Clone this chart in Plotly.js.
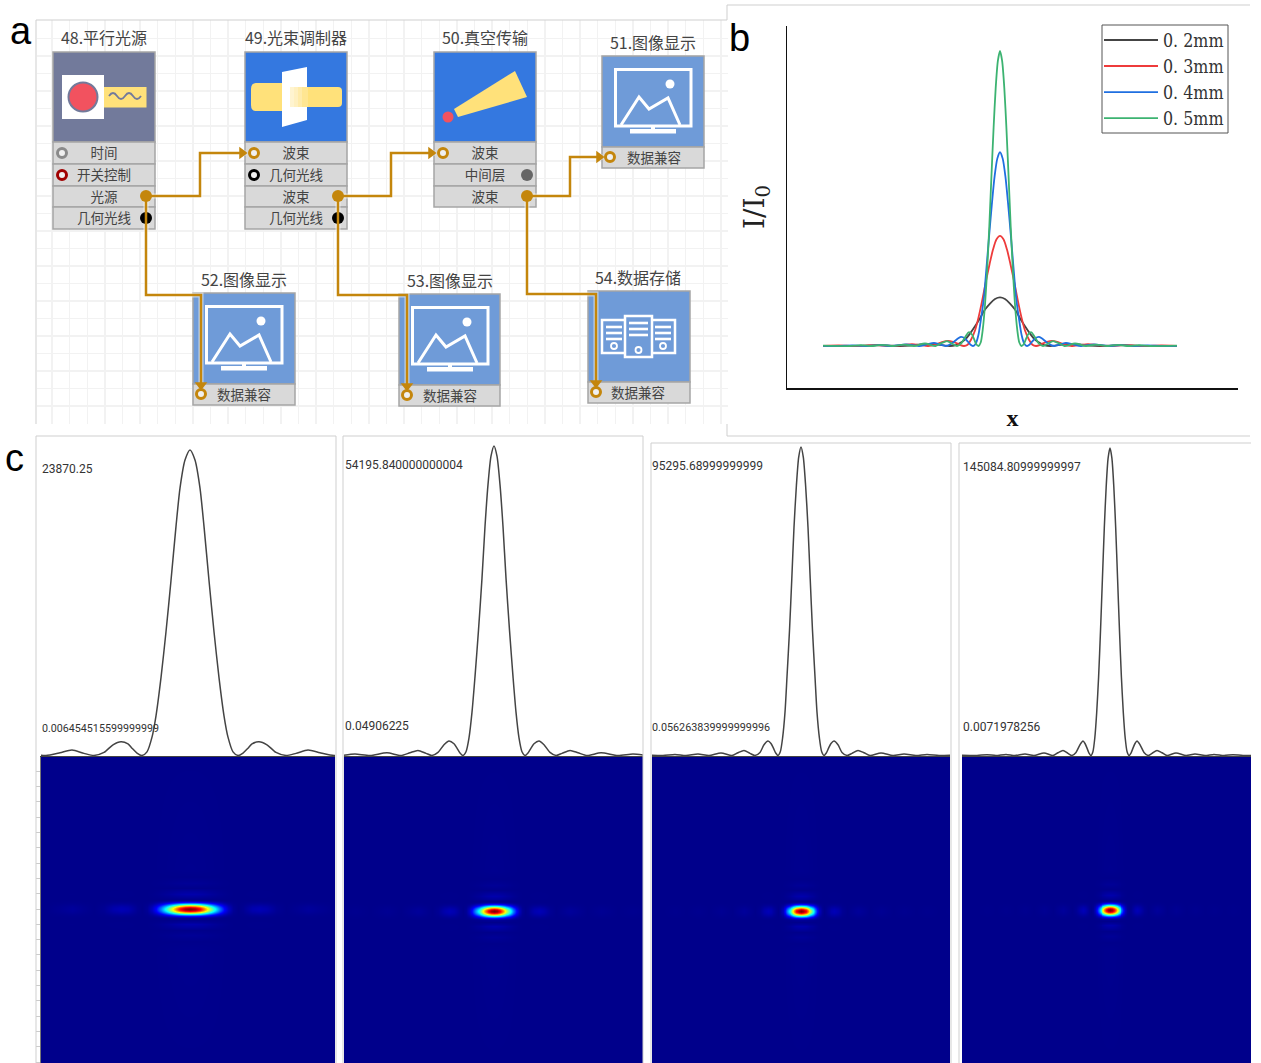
<!DOCTYPE html>
<html><head><meta charset="utf-8">
<script src="https://cdn.plot.ly/plotly-3.0.1.min.js"></script>
<style>html,body{margin:0;padding:0;background:#fff}#chart{width:1261px;height:1063px}</style>
</head><body><div id="chart"></div>
<script>
// ---------- DATA ----------
const seriesNames = ['0. 2mm','0. 3mm','0. 4mm','0. 5mm'];
const peakValues = [23870.25, 54195.84, 95295.69, 145084.81];
const maxLabels = ['23870.25','54195.840000000004','95295.68999999999','145084.80999999997'];
const minLabels = ['0.006454515599999999','0.04906225','0.056263839999999996','0.0071978256'];

// half profiles, centre outwards: offset from the peak, height in % of the peak
const cOff1 = [0,5,10,14,19,24,29,34,38,43,48,53,58,62,69,77,86,96,106,118,130,144,150];
const cH1   = [100,96.7,87.5,75,57.3,40.5,25.5,13,6,1.2,0,.8,2.4,3.8,4.5,3.5,1,0,.7,1.8,.9,0,.1];
const cOff2 = [0,3,6,9,12,15.5,19,22,25,28,31,34,37,40,45,50,56,62,68,76,84,93,107,124,139,150];
const cH2   = [100,96.7,87.5,74,57.3,40.5,25.5,14,5.7,1.2,0,.8,2.4,3.8,4.7,3.5,1,0,.7,1.65,.9,0,.85,0,.5,.1];
const cOff3 = [0,2.3,4.6,7,9.2,11.5,14,16,18.4,20.7,23,25.3,27.6,30,33,37,41,46,51,57,63,69,80,92,103,115,126,138,150];
const cH3   = [100,96.7,87.5,74,57.3,40.5,25.5,14,5.7,1.2,0,.8,2.4,3.9,4.7,3.5,1,0,.7,1.65,.9,0,.85,0,.5,0,.35,0,.1];
const cOff4 = [0,1.9,3.8,5.7,7.6,9.5,11.4,13.3,15.2,17.1,19,21,23,25,27,30,34,38,42,47,52,57,66,76,85,95,104,114,123,133,150];
const cH4   = [100,96.7,87.5,74,57.3,40.5,25.5,14,5.7,1.2,0,.8,2.4,3.9,4.7,3.5,1,0,.7,1.65,.9,0,.85,0,.5,0,.35,0,.25,0,.1];
// panel b offsets for the same curves
const bOff1 = [0,5,10,15,20,25,30,35,40,45,50,55,60,65,72,80,90,100,110,123,135,150,177];
const bOff2 = [0,3.6,7,10.5,14.4,18,21.6,25,29,32.4,36,39.6,43,47,52,58,65,72,79,88,97,108,124,144,161,177];
const bOff3 = [0,2.7,5.4,8,10.8,13.5,16,19,21.6,24.3,27,29.7,32.4,35,39,43,49,54,60,66,73,81,94,108,121,135,148,162,177];
const bOff4 = [0,2.1,4.3,6.4,8.6,10.7,12.9,15,17.2,19.3,21.5,24,26,28,31,34,38.5,43,47.5,53,59,64.5,75,86,96,107.5,118,129,139,150.5,177];
// vertical section through the spots
const spotYOff = [0,1,2,3,4.1,5.2,6.2,7.2,8.3,9.4,10.5,12.5,15,18,21,26,32,40,154];
const spotYH   = [100,96.7,87.5,74,57.3,40.5,25.5,14,5.7,1.2,0,1.5,3.5,2,0,1.2,0,.4,0];

const nodeTitles = ['48.平行光源','49.光束调制器','50.真空传输','51.图像显示','52.图像显示','53.图像显示','54.数据存储'];
const nodePorts = [
  ['时间','开关控制','光源','几何光线'],
  ['波束','几何光线','波束','几何光线'],
  ['波束','中间层','波束'],
  ['数据兼容'],['数据兼容'],['数据兼容'],['数据兼容']
];

// ---------- GEOMETRY AND STYLE ----------
const W = 1261, H = 1063;
const px = v => v / W, py = v => 1 - v / H;
const GOLD = '#c4860c';
const CJK = '"Noto Sans CJK SC","Noto Sans",sans-serif';
const nodes = [
  {x:53, w:102,top:52, head:142,rows:[164,186,207,229],color:'#727a9b',tx:104,ty:38,lx:104},
  {x:245,w:102,top:52, head:142,rows:[164,186,207,229],color:'#3478e0',tx:296,ty:38,lx:296},
  {x:434,w:102,top:52, head:142,rows:[164,186,207],    color:'#3478e0',tx:485,ty:38,lx:485},
  {x:602,w:102,top:56, head:147,rows:[168],color:'#6f9bd8',tx:653,ty:43,lx:654},
  {x:193,w:102,top:293,head:384,rows:[405],color:'#6f9bd8',tx:244,ty:280,lx:244},
  {x:399,w:101,top:294,head:385,rows:[406],color:'#6f9bd8',tx:450,ty:281,lx:450},
  {x:588,w:102,top:291,head:382,rows:[403],color:'#6f9bd8',tx:638,ty:278,lx:638}
];
const shapes = [];
function R(x0,y0,x1,y1,fill,line,lw){shapes.push({type:'rect',xref:'x',yref:'y',x0,y0,x1,y1,fillcolor:fill,line:{color:line||fill,width:lw===undefined?0:lw},layer:'between'});}
function P(path,fill,line,lw){shapes.push({type:'path',xref:'x',yref:'y',path,fillcolor:fill||'rgba(0,0,0,0)',line:{color:line||'rgba(0,0,0,0)',width:lw||0},layer:'between'});}
function C(cx,cy,r,fill,line,lw){shapes.push({type:'circle',xref:'x',yref:'y',x0:cx-r,x1:cx+r,y0:cy-r,y1:cy+r,fillcolor:fill,line:{color:line||fill,width:lw||0},layer:'between'});}
const textX=[],textY=[],textS=[],textSize=[];
const TEXT_DY=2;
nodes.forEach((n,i)=>{
  R(n.x,n.top,n.x+n.w,n.head,n.color,'#a5a5a5',1.5);
  let y=n.head;
  n.rows.forEach((r,k)=>{
    R(n.x,y,n.x+n.w,r,'#d9d9d9','#a5a5a5',1.5);
    textX.push(n.lx); textY.push((y+r)/2+TEXT_DY); textS.push(nodePorts[i][k]); textSize.push(13.5);
    y=r;
  });
  textX.push(n.tx); textY.push(n.ty+TEXT_DY); textS.push(nodeTitles[i]); textSize.push(16);
});
// icons
R(62,75,104,119,'#ffffff');
R(104,87,146.5,107.5,'#ffe17a');
C(83,97,14.5,'#f2525f','#727a9b',2);
P('M109,96 Q113,90 117,96 T125,96 T133,96 T141,96',null,'#727a9b',1.8);
P('M256,83 H292 V111 H256 Q251,111 251,105 V89 Q251,83 256,83 Z','#ffe17a');
P('M282,72 L307,67 V120 L282,127 Z','#ffffff');
P('M308,87 H338 Q342,87 342,91 V103 Q342,107 338,107 H308 Z','#ffe17a');
[[290,294,'#fff4d0'],[294,298,'#fff0c0'],[298,302,'#ffebaa'],[302,308,'#ffe692']].forEach(s=>R(s[0],87,s[1],107,s[2]));
P('M454,109 L515,71 L527,97 L458,117 Z','#ffe17a');
C(448,117,5.5,'#f2525f');
function picture(x,y){
  R(x+13.5,y+13.5,x+89,y+70,'rgba(0,0,0,0)','#ffffff',3);
  C(x+68,y+28,4.5,'#ffffff');
  P(`M${x+19},${y+69} L${x+37},${y+41} L${x+47},${y+53} L${x+66},${y+42} L${x+78},${y+69}`,null,'#ffffff',3);
  R(x+49,y+70,x+53,y+74,'#ffffff');
  R(x+28,y+73,x+74,y+77.5,'#ffffff');
}
picture(602,56); picture(193,293); picture(399,294);
function server(x0,x1,y0,y1){
  R(x0,y0,x1,y1,'#6f9bd8','#ffffff',2.5);
  [7,13,19].forEach(d=>R(x0+4,y0+d-1.3,x1-4,y0+d+1.3,'#ffffff'));
  C((x0+x1)/2,y1-7,3,'#6f9bd8','#ffffff',1.8);
}
server(602,626,320,353); server(651,675,320,353); server(625,652,316,357);

// connectors
const wires = [
  {x:[146,200,200,246],y:[196,196,153,153]},
  {x:[146,146,201,201],y:[196,295,295,386]},
  {x:[338,391,391,435],y:[196,196,153,153]},
  {x:[338,338,407,407],y:[196,295,295,387]},
  {x:[527,570,570,603],y:[196,196,157,157]},
  {x:[527,527,596,596],y:[196,294,294,384]}
];
const arrowX=[242,431,599,201,407,596], arrowY=[153,153,157,385,386,383];
const arrowSym=['triangle-right','triangle-right','triangle-right','triangle-down','triangle-down','triangle-down'];
const portOpen = [[62,153,'#8a8a8a'],[62,175,'#a00000'],[254,153,GOLD],[254,175,'#000000'],[443,153,GOLD],[610,157,GOLD],[201,394,GOLD],[407,395,GOLD],[596,392,GOLD]];
const portFull = [[146,218,'#000000'],[338,218,'#000000'],[527,175,'#666666'],[146,196,GOLD],[338,196,GOLD],[527,196,GOLD]];

const traces = [];
// diagram on its own axes
wires.forEach(w=>traces.push({type:'scatter',mode:'lines',x:w.x,y:w.y,xaxis:'x',yaxis:'y',showlegend:false,line:{color:'rgba(255,255,255,.55)',width:5},hoverinfo:'skip'}));
traces.push({type:'scatter',mode:'markers',x:portFull.map(p=>p[0]),y:portFull.map(p=>p[1]),xaxis:'x',yaxis:'y',showlegend:false,marker:{size:12,color:portFull.map(p=>p[2])},hoverinfo:'skip'});
wires.forEach(w=>traces.push({type:'scatter',mode:'lines',x:w.x,y:w.y,xaxis:'x',yaxis:'y',showlegend:false,line:{color:GOLD,width:2.5},hoverinfo:'skip'}));
traces.push({type:'scatter',mode:'markers',x:arrowX,y:arrowY,xaxis:'x',yaxis:'y',showlegend:false,marker:{size:11,color:GOLD,symbol:arrowSym},hoverinfo:'skip'});
traces.push({type:'scatter',mode:'markers',x:portOpen.map(p=>p[0]),y:portOpen.map(p=>p[1]),xaxis:'x',yaxis:'y',showlegend:false,marker:{size:9,color:'#f0f0f0',line:{width:3,color:portOpen.map(p=>p[2])}},hoverinfo:'skip'});
traces.push({type:'scatter',mode:'text',x:textX,y:textY,text:textS,xaxis:'x',yaxis:'y',showlegend:false,textposition:'middle center',textfont:{family:CJK,size:textSize,color:'#444444'},hoverinfo:'skip'});

const mirrorX = a => a.slice(1).reverse().map(v=>-v).concat(a);
const mirrorH = a => a.slice(1).reverse().concat(a);

// panel b
const bOffs=[bOff1,bOff2,bOff3,bOff4], cHs=[cH1,cH2,cH3,cH4], cOffs=[cOff1,cOff2,cOff3,cOff4];
const bColors=['#444444','#ee3b3b','#1f6fe0','#3cb371'];
const bBase=346,bPeak=51,bTop=26,bBot=388,bLeft=787,bRight=1238,bCx=1000;
bOffs.forEach((o,i)=>{
  const pk=peakValues[i];
  traces.push({type:'scatter',mode:'lines',name:seriesNames[i],x:mirrorX(o),y:mirrorH(cHs[i]).map(h=>h*pk/100),xaxis:'x2',yaxis:'y2',
    line:{color:bColors[i],width:1.8,shape:'spline',smoothing:.7},hoverinfo:'skip'});
});
const bScale=(bBase-bPeak)/peakValues[3];

// panel c
const panels=[
 {l:41, r:335, cx:190, cy:909,top:437,peak:450,frame:[36,336,436],label:42,yMax:469,yMin:728,fs:10.7},
 {l:344,r:643, cx:494, cy:911,top:437,peak:446,frame:[343,643,436],label:345,yMax:465,yMin:726,fs:12},
 {l:652,r:950, cx:801, cy:911,top:444,peak:447,frame:[651,951,443],label:652,yMax:466,yMin:727,fs:10.8},
 {l:962,r:1251,cx:1110,cy:910,top:444,peak:448,frame:[959,1251,443],label:963,yMax:467,yMin:727,fs:12}
];
const cBase=755.5,cBot=757;
const jet=[[0,'#00008b'],[.125,'#0000ff'],[.375,'#00ffff'],[.625,'#ffff00'],[.875,'#ff0000'],[1,'#800000']];
const layout={width:W,height:H,margin:{l:0,r:0,t:0,b:0},paper_bgcolor:'#ffffff',plot_bgcolor:'rgba(0,0,0,0)',hovermode:false,
  shapes,annotations:[],
  xaxis:{domain:[px(37),px(728)],range:[37,728],anchor:'y',showgrid:true,gridcolor:'#f2f2f2',gridwidth:1.5,tickmode:'linear',tick0:157.7,dtick:17.6,showticklabels:false,ticks:'',zeroline:false,showline:false},
  yaxis:{domain:[py(424),py(20)],range:[424,20],anchor:'x',showgrid:true,gridcolor:'#f2f2f2',gridwidth:1.5,tickmode:'linear',tick0:38.3,dtick:17.5,showticklabels:false,ticks:'',zeroline:false,showline:false},
  xaxis2:{domain:[px(bLeft),px(bRight)],range:[bLeft-bCx,bRight-bCx],anchor:'y2',showgrid:false,zeroline:false,showticklabels:false,ticks:'',showline:true,linecolor:'#111111',linewidth:1.5,
    title:{text:'x',font:{family:'"Liberation Serif",serif',size:24,color:'#111111',weight:'bold'},standoff:20}},
  yaxis2:{domain:[py(bBot),py(bTop)],range:[-(bBot-bBase)/bScale,(bBase-bTop)/bScale],anchor:'x2',showgrid:false,zeroline:false,showticklabels:false,ticks:'',showline:true,linecolor:'#111111',linewidth:1.5,
    title:{text:'I/I<sub>0</sub>',font:{family:'"DejaVu Serif",serif',size:28,color:'#222222'},standoff:12}},
  showlegend:true,
  legend:{x:px(1099),y:py(22),xanchor:'left',yanchor:'top',bgcolor:'rgba(0,0,0,0)',borderwidth:0,itemwidth:54,
    font:{family:'"DejaVu Serif Condensed","Liberation Serif",serif',size:17.7,color:'#333333'},traceorder:'normal',tracegroupgap:0,itemclick:false,itemdoubleclick:false}
};
// legend frame
shapes.push({type:'rect',xref:'paper',yref:'paper',x0:px(1102),x1:px(1228),y0:py(25),y1:py(133),fillcolor:'#ffffff',line:{color:'#555555',width:1},layer:'above'});
const hY=mirrorH(spotYH), yY=mirrorX(spotYOff);
panels.forEach((p,i)=>{
  const ax=i*2+3, ay=ax+1;
  const scale=(cBase-p.peak)/100;
  traces.push({type:'scatter',mode:'lines',x:mirrorX(cOffs[i]),y:mirrorH(cHs[i]),xaxis:'x'+ax,yaxis:'y'+ax,showlegend:false,line:{color:'#444444',width:1.5,shape:'spline',smoothing:.7},hoverinfo:'skip'});
  layout['xaxis'+ax]={domain:[px(p.l),px(p.r)],range:[p.l-p.cx,p.r-p.cx],anchor:'y'+ax,visible:false};
  layout['yaxis'+ax]={domain:[py(cBot),py(p.top)],range:[-(cBot-cBase)/scale,(cBase-p.top)/scale],anchor:'x'+ax,visible:false};
  const hX=mirrorH(cHs[i]);
  traces.push({type:'heatmap',x:mirrorX(cOffs[i]),y:yY,z:hY.map(a=>hX.map(b=>a*b/100)),xaxis:'x'+ay,yaxis:'y'+ay,zmin:0,zmax:100,colorscale:jet,zsmooth:'best',showscale:false,hoverinfo:'skip'});
  layout['xaxis'+ay]={domain:[px(p.l),px(p.r)],range:[p.l-p.cx,p.r-p.cx],anchor:'y'+ay,side:'top',showline:true,linecolor:'#444444',linewidth:1,showgrid:false,zeroline:false,showticklabels:false,ticks:''};
  layout['yaxis'+ay]=Object.assign({domain:[0,py(cBot)],range:[-(H-p.cy),p.cy-cBot],anchor:'x'+ay,showgrid:false,zeroline:false,showticklabels:false},
    i===0?{ticks:'outside',ticklen:4,tickcolor:'#cccccc',tickmode:'linear',tick0:0,dtick:15.3,showline:true,linecolor:'#777777',linewidth:1}:{ticks:''});
  const ann=(txt,y,size)=>layout.annotations.push({xref:'paper',yref:'paper',x:px(p.label),y:py(y),text:txt,showarrow:false,xanchor:'left',yanchor:'middle',xshift:-2,font:{family:'Roboto,sans-serif',size,color:'#333333'}});
  ann(maxLabels[i],p.yMax,12); ann(minLabels[i],p.yMin,p.fs);
  // frames
  const f=p.frame,line={color:'#cfcfcf',width:1};
  [[f[0],f[2],f[0],H],[f[0],f[2],f[1],f[2]]].concat(i<3?[[f[1],f[2],f[1],H]]:[]).forEach(s=>
    shapes.push({type:'line',xref:'paper',yref:'paper',x0:px(s[0]),y0:py(s[1]),x1:px(s[2]),y1:py(s[3]),line,layer:'above'}));
});
// outer frames of panels a and b
[[36,20,727,20],[36,20,36,424],[727,5,727,20],[727,5,1250,5],[727,424,727,436],[727,436,1250,436]].forEach(s=>
  shapes.push({type:'line',xref:'paper',yref:'paper',x0:px(s[0]),y0:py(s[1]),x1:px(s[2]),y1:py(s[3]),line:{color:'#cfcfcf',width:1},layer:'above'}));
// panel letters
[['a',21,31],['b',739,38],['c',14,458]].forEach(l=>layout.annotations.push({xref:'paper',yref:'paper',x:px(l[1]),y:py(l[2]),text:l[0],showarrow:false,xanchor:'center',yanchor:'middle',font:{family:'"Liberation Sans",Arial,sans-serif',size:38,color:'#000000'}}));

Plotly.newPlot('chart',traces,layout,{displayModeBar:false,staticPlot:true});
</script></body></html>
